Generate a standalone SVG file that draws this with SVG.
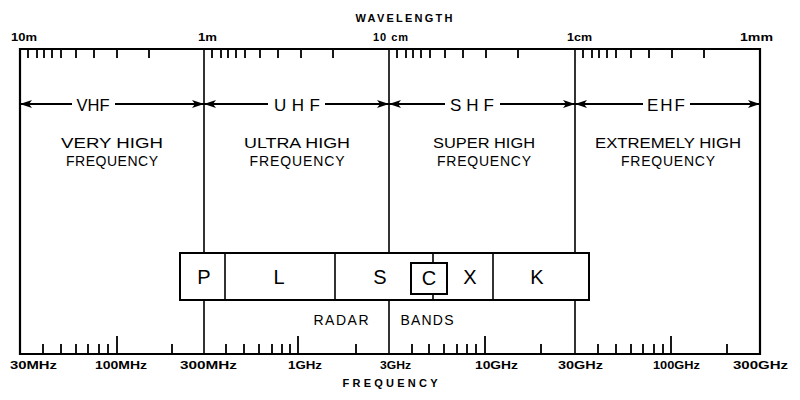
<svg xmlns="http://www.w3.org/2000/svg" width="800" height="400" viewBox="0 0 800 400">
<defs>
<style>
.t{font-family:"Liberation Sans","DejaVu Sans",sans-serif;fill:#000;}
.ax{stroke:#000;stroke-width:2.2;fill:none;}
.dv{stroke:#000;stroke-width:1.6;fill:none;}
.tk{stroke:#000;stroke-width:1.8;fill:none;}
.ar{stroke:#000;stroke-width:1.8;fill:none;}
.bx{stroke:#000;stroke-width:2;fill:#fff;}
.sm{font-size:11px;font-weight:bold;}
.ds{font-size:14px;}
.bd{font-size:17px;}
.rb{font-size:20px;}
</style>
<marker id="ah" viewBox="0 0 12 8" refX="12" refY="4" markerWidth="12" markerHeight="8" markerUnits="userSpaceOnUse" orient="auto-start-reverse">
<path d="M0,0 L12,4 L0,8 L3,4 Z" fill="#000"/>
</marker>
</defs>
<rect width="800" height="400" fill="#fff"/>

<g id="frame">
<path class="ax" d="M20,49 H760 V354 H20 Z"/>
<path class="dv" d="M204,49 V253 M389,49 V253 M575,49 V253 M204,300 V354 M389,300 V354 M575,300 V354"/>
</g>

<g id="wavelength-ticks">
<path class="tk" d="M28,49v9M37,49v9M44,49v9M52,49v9M61,49v9M76,49v9M94,49v9M117,49v9M149,49v9
M212,49v9M221,49v9M228,49v9M236,49v9M245,49v9M260,49v9M278,49v9M301,49v9M333,49v9
M397,49v9M406,49v9M413,49v9M421,49v9M430,49v9M445,49v9M463,49v9M486,49v9M518,49v9
M583,49v9M592,49v9M599,49v9M607,49v9M616,49v9M631,49v9M649,49v9M672,49v9M704,49v9"/>
</g>

<g id="frequency-ticks">
<path class="tk" d="M43,354v-10M61,354v-10M76,354v-10M88,354v-10M99,354v-10M108,354v-10M117,354v-18M172,354v-10
M226,354v-10M244,354v-10M259,354v-10M272,354v-10M282,354v-10M290,354v-10M298,354v-18M356,354v-10
M412,354v-10M429,354v-10M444,354v-10M457,354v-10M467,354v-10M476,354v-10M485,354v-18M541,354v-10
M598,354v-10M616,354v-10M631,354v-10M643,354v-10M654,354v-10M663,354v-10M671,354v-18M727,354v-10"/>
</g>

<g id="axis-labels">
<text class="t sm" x="404" y="22" text-anchor="middle" textLength="97" lengthAdjust="spacing">WAVELENGTH</text>
<text class="t sm" x="11" y="41" textLength="26" lengthAdjust="spacingAndGlyphs">10m</text>
<text class="t sm" x="198" y="41" textLength="19" lengthAdjust="spacingAndGlyphs">1m</text>
<text class="t sm" x="373" y="41" textLength="35" lengthAdjust="spacing">10 cm</text>
<text class="t sm" x="567" y="41" textLength="25" lengthAdjust="spacingAndGlyphs">1cm</text>
<text class="t sm" x="740" y="41" textLength="33" lengthAdjust="spacingAndGlyphs">1mm</text>

<text class="t sm" x="10" y="369" textLength="47" lengthAdjust="spacingAndGlyphs">30MHz</text>
<text class="t sm" x="95" y="369" textLength="52" lengthAdjust="spacingAndGlyphs">100MHz</text>
<text class="t sm" x="180" y="369" textLength="57" lengthAdjust="spacingAndGlyphs">300MHz</text>
<text class="t sm" x="288" y="369" textLength="34" lengthAdjust="spacingAndGlyphs">1GHz</text>
<text class="t sm" x="380" y="369" textLength="31" lengthAdjust="spacingAndGlyphs">3GHz</text>
<text class="t sm" x="475" y="369" textLength="43" lengthAdjust="spacingAndGlyphs">10GHz</text>
<text class="t sm" x="558" y="369" textLength="45" lengthAdjust="spacingAndGlyphs">30GHz</text>
<text class="t sm" x="653" y="369" textLength="47" lengthAdjust="spacingAndGlyphs">100GHz</text>
<text class="t sm" x="733" y="369" textLength="55" lengthAdjust="spacingAndGlyphs">300GHz</text>
<text class="t sm" x="390" y="387" text-anchor="middle" textLength="95" lengthAdjust="spacing">FREQUENCY</text>
</g>

<g id="connectors">
<path class="ar" d="M72,104 H20" marker-end="url(#ah)"/>
<path class="ar" d="M115,104 H204" marker-end="url(#ah)"/>
<path class="ar" d="M268,104 H204" marker-end="url(#ah)"/>
<path class="ar" d="M325,104 H389" marker-end="url(#ah)"/>
<path class="ar" d="M445,104 H389" marker-end="url(#ah)"/>
<path class="ar" d="M500,104 H575" marker-end="url(#ah)"/>
<path class="ar" d="M643,104 H575" marker-end="url(#ah)"/>
<path class="ar" d="M690,104 H760" marker-end="url(#ah)"/>
</g>

<g id="vhf">
<text class="t bd" x="93" y="111" text-anchor="middle" textLength="33" lengthAdjust="spacingAndGlyphs">VHF</text>
<text class="t ds" x="112" y="148" text-anchor="middle" textLength="102" lengthAdjust="spacingAndGlyphs">VERY HIGH</text>
<text class="t ds" x="112" y="166" text-anchor="middle" textLength="92" lengthAdjust="spacing">FREQUENCY</text>
</g>
<g id="uhf">
<text class="t bd" x="297" y="111" text-anchor="middle" textLength="46" lengthAdjust="spacing">UHF</text>
<text class="t ds" x="297" y="148" text-anchor="middle" textLength="106" lengthAdjust="spacingAndGlyphs">ULTRA HIGH</text>
<text class="t ds" x="297" y="166" text-anchor="middle" textLength="95" lengthAdjust="spacing">FREQUENCY</text>
</g>
<g id="shf">
<text class="t bd" x="472" y="111" text-anchor="middle" textLength="44" lengthAdjust="spacing">SHF</text>
<text class="t ds" x="484" y="148" text-anchor="middle" textLength="102" lengthAdjust="spacingAndGlyphs">SUPER HIGH</text>
<text class="t ds" x="484" y="166" text-anchor="middle" textLength="94" lengthAdjust="spacing">FREQUENCY</text>
</g>
<g id="ehf">
<text class="t bd" x="666" y="111" text-anchor="middle" textLength="38" lengthAdjust="spacing">EHF</text>
<text class="t ds" x="668" y="148" text-anchor="middle" textLength="146" lengthAdjust="spacingAndGlyphs">EXTREMELY HIGH</text>
<text class="t ds" x="668" y="166" text-anchor="middle" textLength="94" lengthAdjust="spacing">FREQUENCY</text>
</g>

<g id="radar-bands">
<rect class="bx" x="180" y="253" width="409" height="47"/>
<path class="dv" d="M225,253 V300 M335,253 V300 M493,253 V300 M433,253 V263 M433,294 V300"/>
<rect class="bx" x="411" y="263" width="36" height="31"/>
<text class="t rb" x="204" y="284" text-anchor="middle">P</text>
<text class="t rb" x="279" y="284" text-anchor="middle">L</text>
<text class="t rb" x="380" y="284" text-anchor="middle">S</text>
<text class="t rb" x="429" y="285" text-anchor="middle">C</text>
<text class="t rb" x="470" y="284" text-anchor="middle">X</text>
<text class="t rb" x="537" y="284" text-anchor="middle">K</text>
<text class="t ds" x="341" y="325" text-anchor="middle" textLength="55" lengthAdjust="spacing">RADAR</text>
<text class="t ds" x="427" y="325" text-anchor="middle" textLength="53" lengthAdjust="spacing">BANDS</text>
</g>
</svg>
